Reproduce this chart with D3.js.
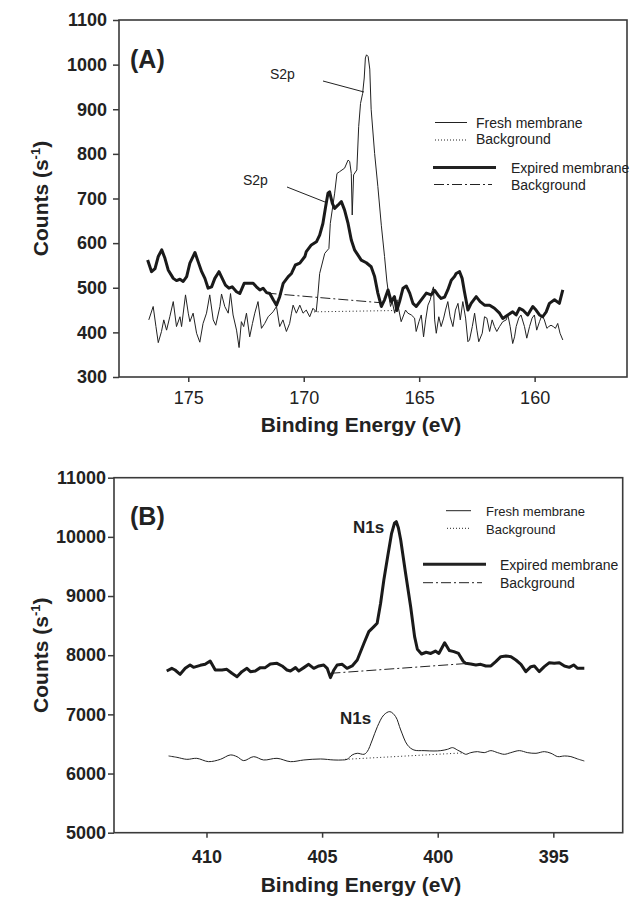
<!DOCTYPE html>
<html><head><meta charset="utf-8">
<script src="https://cdn.jsdelivr.net/npm/d3@7"></script>
<style>body{margin:0;background:#fff}svg{display:block}text{font-family:"Liberation Sans",Arial,sans-serif;fill:#222}</style>
</head><body>
<svg id="c" width="630" height="900"></svg>
<script>
// ---------- Panel A (S2p) ----------
const aExpE=[176.76,176.59,176.44,176.30,176.15,176.01,175.87,175.65,175.51,175.36,175.22,175.07,174.93,174.71,174.57,174.42,174.28,174.14,173.99,173.85,173.67,173.53,173.39,173.24,173.10,172.91,172.77,172.58,172.41,172.19,172.05,171.90,171.76,171.61,171.47,171.32,171.18,171.04,170.89,170.67,170.53,170.36,170.17,169.95,169.89,169.67,169.45,169.31,169.17,169.05,168.95,168.88,168.76,168.66,168.52,168.37,168.23,168.08,167.94,167.80,167.65,167.51,167.29,167.08,166.93,166.79,166.64,166.50,166.35,166.21,166.07,165.97,165.85,165.70,165.56,165.41,165.27,165.13,164.91,164.69,164.48,164.33,164.19,164.05,163.90,163.76,163.61,163.47,163.40,163.25,163.14,163.04,162.89,162.75,162.53,162.36,162.17,161.95,161.74,161.52,161.38,161.16,160.95,160.80,160.66,160.51,160.30,160.08,159.94,159.79,159.65,159.50,159.36,159.14,158.93,158.78];
const aExpC=[562,536,543,570,585,566,540,521,516,519,514,525,555,579,558,536,521,499,502,521,536,521,506,499,502,491,487,510,510,510,502,495,499,489,487,473,461,480,510,525,532,551,555,570,581,596,603,618,644,682,712,715,689,678,685,693,674,644,607,585,573,562,556,547,525,488,458,473,495,469,480,449,469,499,504,488,465,458,473,488,484,494,484,476,479,495,517,525,532,536,521,491,450,465,480,469,461,461,454,443,431,439,446,439,454,450,439,458,450,439,435,446,465,473,465,495];
const aFreshE=[176.71,176.52,176.40,176.30,176.16,176.06,175.94,175.80,175.65,175.51,175.36,175.29,175.12,175.00,174.93,174.79,174.64,174.50,174.36,174.21,174.07,173.92,173.81,173.63,173.56,173.42,173.27,173.17,173.06,172.91,172.80,172.70,172.60,172.48,172.34,172.22,172.12,171.98,171.83,171.69,171.54,171.33,171.18,171.04,170.90,170.75,170.61,170.53,170.46,170.32,170.17,170.03,169.89,169.74,169.60,169.46,169.38,169.31,169.09,168.91,168.85,168.66,168.56,168.45,168.23,168.08,168.01,167.94,167.90,167.84,167.70,167.62,167.54,167.45,167.38,167.33,167.28,167.21,167.14,167.08,166.93,166.79,166.64,166.50,166.40,166.31,166.24,166.17,166.06,165.96,165.88,165.78,165.67,165.59,165.49,165.34,165.20,165.13,165.01,164.91,164.81,164.72,164.62,164.52,164.43,164.38,164.33,164.26,164.15,164.05,163.94,163.86,163.76,163.66,163.54,163.43,163.32,163.22,163.11,162.99,162.89,162.82,162.70,162.60,162.50,162.42,162.27,162.17,162.07,161.95,161.84,161.74,161.64,161.52,161.38,161.23,161.16,161.06,160.95,160.87,160.80,160.69,160.59,160.44,160.34,160.22,160.11,160.01,159.91,159.79,159.68,159.58,159.47,159.39,159.29,159.19,159.10,159.00,158.90,158.78];
const aFreshC=[428,458,413,377,402,428,405,435,469,413,435,413,484,443,424,443,398,378,420,443,484,428,416,458,486,458,443,487,439,405,366,424,413,443,390,420,443,469,409,420,435,446,458,413,428,402,420,443,461,443,461,443,450,435,454,446,488,532,577,588,644,712,756,760,768,786,783,756,663,753,764,861,913,935,970,1015,1022,1018,990,900,801,727,640,570,515,480,458,469,443,473,450,424,439,450,443,439,432,402,424,439,390,428,461,473,495,502,428,398,435,413,432,450,469,435,413,450,465,428,469,432,379,383,413,443,405,379,398,435,432,402,428,413,402,413,424,428,439,413,375,390,413,432,439,413,387,413,432,439,405,424,439,428,409,413,416,413,409,420,398,383];
const aExpBgE=[171.61,166.57], aExpBgC=[488,466];
const aFreshBgE=[169.55,166.0], aFreshBgC=[446,449];
const aXTicks=[175,170,165,160];
const aYTicks=[300,400,500,600,700,800,900,1000,1100];

// ---------- Panel B (N1s) ----------
const bExpE=[411.72,411.50,411.36,411.14,410.92,410.71,410.56,410.27,410.06,409.84,409.62,409.33,409.12,408.90,408.68,408.47,408.25,408.10,407.89,407.67,407.46,407.24,406.95,406.73,406.52,406.37,406.15,406.01,405.79,405.58,405.36,405.14,404.93,404.78,404.64,404.49,404.35,404.13,403.92,403.70,403.48,403.19,402.98,402.76,402.62,402.47,402.33,402.15,402.00,401.87,401.79,401.70,401.60,401.39,401.17,401.00,400.88,400.70,400.50,400.30,400.10,399.95,399.70,399.50,399.30,399.10,398.90,398.79,398.57,398.35,398.14,397.92,397.70,397.49,397.27,397.05,396.83,396.62,396.40,396.19,395.97,395.82,395.61,395.39,395.17,394.96,394.74,394.52,394.31,394.12,393.95,393.66];
const bExpC=[7733,7778,7750,7677,7778,7835,7795,7829,7846,7902,7750,7750,7761,7694,7637,7722,7778,7722,7733,7790,7790,7851,7863,7818,7750,7733,7790,7733,7790,7846,7778,7818,7835,7778,7621,7750,7835,7846,7778,7818,7919,8201,8398,8483,8539,8877,9271,9700,10050,10230,10257,10150,9947,9384,8820,8314,8100,8020,8050,8030,8070,8030,8210,8080,8060,8030,7900,7863,7851,7835,7846,7818,7818,7891,7975,7987,7975,7919,7846,7722,7806,7818,7722,7806,7874,7863,7874,7818,7795,7835,7778,7778];
const bFreshE=[411.64,411.28,410.85,410.42,409.91,409.40,408.97,408.68,408.39,407.96,407.53,406.95,406.37,405.79,405.07,404.49,404.13,403.92,403.70,403.48,403.19,403.05,402.83,402.61,402.33,402.07,401.82,401.60,401.31,401.03,400.59,400.16,399.87,399.58,399.36,399.15,398.93,398.79,398.57,398.28,397.99,397.70,397.41,397.12,396.84,396.47,396.11,395.75,395.39,395.10,394.81,394.52,394.24,393.95,393.66];
const bFreshC=[6297,6274,6240,6257,6201,6240,6314,6285,6218,6285,6229,6257,6201,6229,6246,6229,6229,6240,6314,6342,6325,6370,6567,6792,6990,7046,6962,6736,6483,6398,6387,6381,6387,6409,6438,6398,6353,6325,6353,6370,6353,6387,6353,6325,6353,6387,6353,6342,6370,6342,6286,6297,6286,6246,6212];
const bExpBgE=[404.64,398.75], bExpBgC=[7694,7860];
const bFreshBgE=[404.0,398.86], bFreshBgC=[6240,6350];
const bXTicks=[410,405,400,395];
const bYTicks=[5000,6000,7000,8000,9000,10000,11000];

const legendLabels=["Fresh membrane","Background","Expired membrane","Background"];

const svg=d3.select("#c");
const ink="#222", axisCol="#3a3a3a";
const zip=(e,c)=>e.map((v,i)=>[v,c[i]]);

function panel(cfg){
  const g=svg.append("g");
  const x=d3.scaleLinear().domain(cfg.xd).range(cfg.xr);
  const y=d3.scaleLinear().domain(cfg.yd).range(cfg.yr);
  // axes
  const ax=g.append("g").attr("transform",`translate(0,${cfg.yr[0]})`)
    .call(d3.axisBottom(x).tickValues(cfg.xt).tickSize(5).tickPadding(cfg.xpad).tickFormat(d3.format("d")));
  const ay=g.append("g").attr("transform",`translate(${cfg.xr[0]},0)`)
    .call(d3.axisLeft(y).tickValues(cfg.yt).tickSize(6).tickPadding(cfg.ypad).tickFormat(d3.format("d")));
  [ax,ay].forEach(a=>{a.select(".domain").remove();a.selectAll("line").attr("stroke",axisCol).attr("stroke-width",1.5);});
  ax.selectAll("text").attr("font-size",18).attr("font-weight",cfg.xbold?"bold":"normal").attr("fill",ink).attr("font-family","Liberation Sans, Arial, sans-serif");
  ay.selectAll("text").attr("font-size",18).attr("font-weight","bold").attr("fill",ink).attr("font-family","Liberation Sans, Arial, sans-serif");
  g.append("rect").attr("x",cfg.xr[0]).attr("y",cfg.yr[1]).attr("width",cfg.xr[1]-cfg.xr[0]).attr("height",cfg.yr[0]-cfg.yr[1])
    .attr("fill","none").attr("stroke",axisCol).attr("stroke-width",1.6);
  const line=d3.line().x(d=>x(d[0])).y(d=>y(d[1]));
  // backgrounds
  g.append("path").attr("d",line(zip(cfg.fbgE,cfg.fbgC))).attr("fill","none").attr("stroke",ink).attr("stroke-width",1).attr("stroke-dasharray","1,2.5");
  g.append("path").attr("d",line(zip(cfg.ebgE,cfg.ebgC))).attr("fill","none").attr("stroke",ink).attr("stroke-width",1).attr("stroke-dasharray","10,3,2,3");
  // fresh
  const fl=d3.line().x(d=>x(d[0])).y(d=>y(d[1])).curve(cfg.smoothFresh?d3.curveCatmullRom:d3.curveLinear);
  g.append("path").attr("d",fl(zip(cfg.fE,cfg.fC))).attr("fill","none").attr("stroke",ink).attr("stroke-width",1).attr("stroke-linejoin","round");
  // expired
  g.append("path").attr("d",line(zip(cfg.eE,cfg.eC))).attr("fill","none").attr("stroke","#1a1a1a").attr("stroke-width",3).attr("stroke-linejoin","round");
  // titles
  g.append("text").attr("x",cfg.tx).attr("y",cfg.ty).attr("text-anchor","middle").attr("font-size",21).attr("font-weight","bold").text("Binding Energy (eV)");
  const yt=g.append("text").attr("transform",`translate(48,${(cfg.yr[0]+cfg.yr[1])/2}) rotate(-90)`).attr("text-anchor","middle").attr("font-size",21).attr("font-weight","bold");
  yt.append("tspan").text("Counts (s");
  yt.append("tspan").attr("font-size",13).attr("dy",-8).text("-1");
  yt.append("tspan").attr("dy",8).text(")");
  g.append("text").attr("x",130).attr("y",cfg.py).attr("font-size",25).attr("font-weight","bold").text(cfg.plabel);
  // legend
  const L=cfg.leg;
  const styles=[{w:1,da:null},{w:1,da:"1,2"},{w:3,da:null},{w:1,da:"10,3,2,3"}];
  L.forEach((l,i)=>{
    g.append("line").attr("x1",l.x1).attr("x2",l.x2).attr("y1",l.ly).attr("y2",l.ly).attr("stroke",ink).attr("stroke-width",styles[i].w).attr("stroke-dasharray",styles[i].da);
    g.append("text").attr("x",l.tx).attr("y",l.ty).attr("font-size",l.fs).text(legendLabels[i]);
  });
  return g;
}

const gA=panel({xd:[178,156],xr:[119,627],yd:[300,1100],yr:[377,20],xt:aXTicks,yt:aYTicks,xpad:9,ypad:6,xbold:false,
  eE:aExpE,eC:aExpC,fE:aFreshE,fC:aFreshC,ebgE:aExpBgE,ebgC:aExpBgC,fbgE:aFreshBgE,fbgC:aFreshBgC,smoothFresh:false,
  tx:361,ty:432,py:68,plabel:"(A)",
  leg:[{x1:435,x2:467,ly:122.5,tx:476,ty:127.5,fs:14},{x1:435,x2:466,ly:140,tx:476,ty:144,fs:14},
       {x1:433,x2:496,ly:167.5,tx:511,ty:172.5,fs:14},{x1:434,x2:492,ly:184.5,tx:511,ty:190,fs:14}]});
// S2p annotations
gA.append("text").attr("x",270).attr("y",78.5).attr("font-size",14).text("S2p");
gA.append("line").attr("x1",323).attr("y1",81).attr("x2",364).attr("y2",92).attr("stroke",ink).attr("stroke-width",1);
gA.append("text").attr("x",243).attr("y",184.5).attr("font-size",14).text("S2p");
gA.append("line").attr("x1",287).attr("y1",187).attr("x2",325).attr("y2",202).attr("stroke",ink).attr("stroke-width",1);

const gB=panel({xd:[414,392],xr:[114,622.7],yd:[5000,11000],yr:[832.7,477.7],xt:bXTicks,yt:bYTicks,xpad:13,ypad:2,xbold:true,
  eE:bExpE,eC:bExpC,fE:bFreshE,fC:bFreshC,ebgE:bExpBgE,ebgC:bExpBgC,fbgE:bFreshBgE,fbgC:bFreshBgC,smoothFresh:true,
  tx:361,ty:892,py:524.5,plabel:"(B)",
  leg:[{x1:446,x2:471,ly:510.7,tx:486,ty:516,fs:13},{x1:447,x2:470,ly:528.3,tx:486,ty:534,fs:13},
       {x1:423,x2:486,ly:564.3,tx:500,ty:570,fs:14},{x1:423,x2:482,ly:582.7,tx:500,ty:587.5,fs:14}]});
gB.append("text").attr("x",353).attr("y",532.7).attr("font-size",17).attr("font-weight","bold").text("N1s");
gB.append("text").attr("x",340).attr("y",724).attr("font-size",17).attr("font-weight","bold").text("N1s");
</script>
</body></html>
